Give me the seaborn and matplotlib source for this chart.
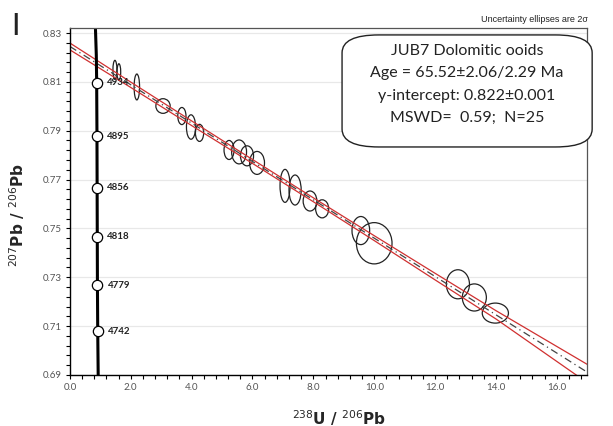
import numpy as np
import pandas as pd
import seaborn as sns
import matplotlib.pyplot as plt
from matplotlib.patches import Ellipse, FancyBboxPatch
from matplotlib.ticker import MultipleLocator

# data ellipses (centre, 2-sigma full width / height)
ell_x = [1.48, 1.61, 2.20, 3.06, 3.68, 3.98, 4.26, 5.23, 5.56, 5.82, 6.15,
         7.07, 7.40, 7.89, 8.29, 9.56, 10.00, 12.75, 13.29, 13.98]
ell_y = [0.8149, 0.8140, 0.8079, 0.8001, 0.7960, 0.7915, 0.7891, 0.7821, 0.7813,
         0.7797, 0.7768, 0.7674, 0.7657, 0.7612, 0.7580, 0.7491, 0.7439, 0.7271,
         0.7217, 0.7153]
ell_w = [0.13, 0.12, 0.18, 0.47, 0.27, 0.30, 0.27, 0.33, 0.49, 0.43, 0.49,
         0.33, 0.40, 0.45, 0.43, 0.58, 1.17, 0.76, 0.79, 0.86]
ell_h = [0.0078, 0.0068, 0.0106, 0.0060, 0.0070, 0.0100, 0.0070, 0.0078, 0.0098,
         0.0082, 0.0094, 0.0135, 0.0123, 0.0082, 0.0074, 0.0115, 0.0169, 0.0119,
         0.0111, 0.0082]

# regression line and its error envelope
fit_x = [0, 2, 4, 6, 8, 10, 12, 14, 17]
fit_y = [0.8245, 0.8088, 0.7931, 0.7774, 0.7617, 0.7460, 0.7303, 0.7146, 0.6911]
env_hi = [0.8259, 0.8099, 0.7940, 0.7782, 0.7625, 0.7470, 0.7316, 0.7163, 0.6943]
env_lo = [0.8231, 0.8077, 0.7921, 0.7766, 0.7609, 0.7450, 0.7289, 0.7129, 0.6868]

# concordia curve and age markers (Ma)
conc_x = [0.930, 0.915, 0.905, 0.900, 0.895, 0.890, 0.880, 0.868, 0.840]
conc_y = [0.690, 0.708, 0.727, 0.747, 0.767, 0.788, 0.810, 0.821, 0.832]
age_x = [0.880, 0.890, 0.895, 0.900, 0.905, 0.915]
age_y = [0.8097, 0.7877, 0.7666, 0.7465, 0.7267, 0.7079]
age_labels = ['4934', '4895', '4856', '4818', '4779', '4742']

x_ticks = [0, 2, 4, 6, 8, 10, 12, 14, 16]
y_ticks = [0.69, 0.71, 0.73, 0.75, 0.77, 0.79, 0.81, 0.83]

sns.set_theme(style='white')
plt.rcParams['font.family'] = ['Lato', 'DejaVu Sans']

fig = plt.figure(figsize=(6.13, 4.26), dpi=100)
ax = fig.add_axes([0.114, 0.120, 0.844, 0.814])

df_fit = pd.DataFrame({'x': fit_x, 'y': fit_y, 'hi': env_hi, 'lo': env_lo})
sns.lineplot(data=df_fit, x='x', y='hi', color='#d03030', lw=0.9, ax=ax)
sns.lineplot(data=df_fit, x='x', y='lo', color='#d03030', lw=0.9, ax=ax)
sns.lineplot(data=df_fit, x='x', y='y', color='#444444', lw=0.9,
             linestyle=(0, (6, 3, 1, 3)), ax=ax)

for x, y, w, h in zip(ell_x, ell_y, ell_w, ell_h):
    ax.add_patch(Ellipse((x, y), w, h, fill=False, ec='#222222', lw=0.9))

df_conc = pd.DataFrame({'x': conc_x, 'y': conc_y})
sns.lineplot(data=df_conc, x='x', y='y', sort=False, color='black', lw=2.2, ax=ax)
df_age = pd.DataFrame({'x': age_x, 'y': age_y})
sns.scatterplot(data=df_age, x='x', y='y', s=55, color='white',
                edgecolor='black', linewidth=0.9, zorder=5, ax=ax)
for x, y, lab in zip(age_x, age_y, age_labels):
    ax.text(x + 0.33, y, lab, fontsize=7, fontweight='bold', va='center',
            color='#222222', zorder=6)

ax.set_xlim(0, 17)
ax.set_ylim(0.69, 0.832)
ax.set_xticks(x_ticks)
ax.set_yticks(y_ticks)
ax.xaxis.set_minor_locator(MultipleLocator(0.4))
ax.yaxis.set_minor_locator(MultipleLocator(0.004, offset=0.002))
ax.set_xticklabels([f'{v:.1f}' for v in x_ticks])
ax.set_yticklabels([f'{v:.2f}' for v in y_ticks])
ax.tick_params(axis='both', which='both', direction='out', length=3, width=0.8,
               color='black', labelsize=7, labelcolor='#555555', pad=3,
               bottom=True, left=True)
ax.grid(axis='y', which='major', color='#e8e8e8', lw=0.9)
ax.set_axisbelow(True)
for s in ['left', 'bottom']:
    ax.spines[s].set_color('black')
    ax.spines[s].set_linewidth(1)
for s in ['top', 'right']:
    ax.spines[s].set_color('#555555')
    ax.spines[s].set_linewidth(0.9)

ax.set_xlabel(r'$^{238}$U / $^{206}$Pb', fontsize=11, fontweight='bold',
              family='DejaVu Sans', labelpad=10)
ax.xaxis.set_label_coords(0.52, -0.095)
ax.set_ylabel(r'$^{207}$Pb / $^{206}$Pb', fontsize=11, fontweight='bold',
              family='DejaVu Sans')
ax.yaxis.set_label_coords(-0.083, 0.46)

box = FancyBboxPatch((0.558, 0.655), 0.408, 0.263, transform=fig.transFigure,
                     boxstyle='round,pad=0,rounding_size=0.06', fc='white',
                     ec='#222222', lw=1, zorder=10, mutation_aspect=0.7)
fig.patches.append(box)
box_lines = ['JUB7 Dolomitic ooids', 'Age = 65.52\u00b12.06/2.29 Ma',
             'y-intercept: 0.822\u00b10.001', 'MSWD=  0.59;  N=25']
for i, line in enumerate(box_lines):
    fig.text(0.762, 1 - (51 + 22.3 * i) / 426, line, ha='center', va='center',
             fontsize=11.5, color='#222222', zorder=11)

fig.text(0.959, 1 - 20 / 426, 'Uncertainty ellipses are 2\u03c3', ha='right',
         va='center', fontsize=6.5, family='Liberation Sans', color='#222222')
fig.text(0.026, 1 - 26 / 426, 'I', ha='center', va='center', fontsize=22,
         color='#222222')

fig.savefig('out.png', dpi=100)
